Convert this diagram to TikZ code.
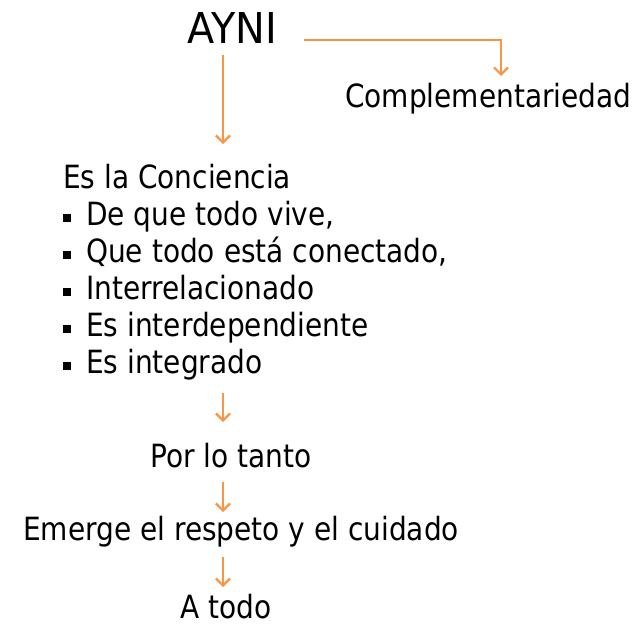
\documentclass[tikz,border=0pt]{standalone}
\usepackage{fontspec}
\setmainfont{DejaVu Sans}[FakeStretch=0.875]
\newfontfamily\bigfont{DejaVu Sans}[FakeStretch=0.935]
\usetikzlibrary{arrows.meta,calc}
\definecolor{arrorange}{HTML}{F79646}
\tikzset{
  txt/.style={anchor=base west,inner sep=0pt,text depth=0pt,font=\fontsize{32pt}{38pt}\selectfont,text=black},
  big/.style={anchor=base west,inner sep=0pt,text depth=0pt,font=\bigfont\fontsize{42.5pt}{50pt}\selectfont,text=black},
  arr/.style={draw=arrorange,line width=2.2pt,-{Straight Barb[length=7pt,width=14pt,line width=2.2pt]}}
}
\newcommand{\blt}{\makebox[23pt][l]{\rule[3pt]{8pt}{8pt}}}
\begin{document}
\begin{tikzpicture}[x=1pt,y=-1pt]
\useasboundingbox (0,0) rectangle (639,627);
\node[big] (ayni) at (187,43) {AYNI};
\node[txt] (comp) at (345,107) {Complementariedad};
\node[txt] (conc) at (63,188) {Es la Conciencia};
\node[txt] (b1) at (63,225) {\blt De que todo vive,};
\node[txt] (b2) at (63,262) {\blt Que todo está conectado,};
\node[txt] (b3) at (63,299) {\blt Interrelacionado};
\node[txt] (b4) at (63,336) {\blt Es interdependiente};
\node[txt] (b5) at (63,373) {\blt Es integrado};
\node[txt] (por) at (150,467) {Por lo tanto};
\node[txt] (emer) at (23,540) {Emerge el respeto y el cuidado};
\node[txt] (atodo) at (180,618) {A todo};
% connectors
\coordinate (h0) at (304,40);
\coordinate (h1) at (501,76);
\draw[arr] (h0) -| (h1);
\coordinate (v0) at (223,55);
\coordinate (v1) at (223,144);
\draw[arr] (v0) -- (v1);
\coordinate (a3) at (223,393);
\coordinate (a3e) at (223,422);
\draw[arr] (a3) -- (a3e);
\coordinate (a4) at (223,482);
\coordinate (a4e) at (223,512);
\draw[arr] (a4) -- (a4e);
\coordinate (a5) at (223,557);
\coordinate (a5e) at (223,587);
\draw[arr] (a5) -- (a5e);
\end{tikzpicture}
\end{document}
